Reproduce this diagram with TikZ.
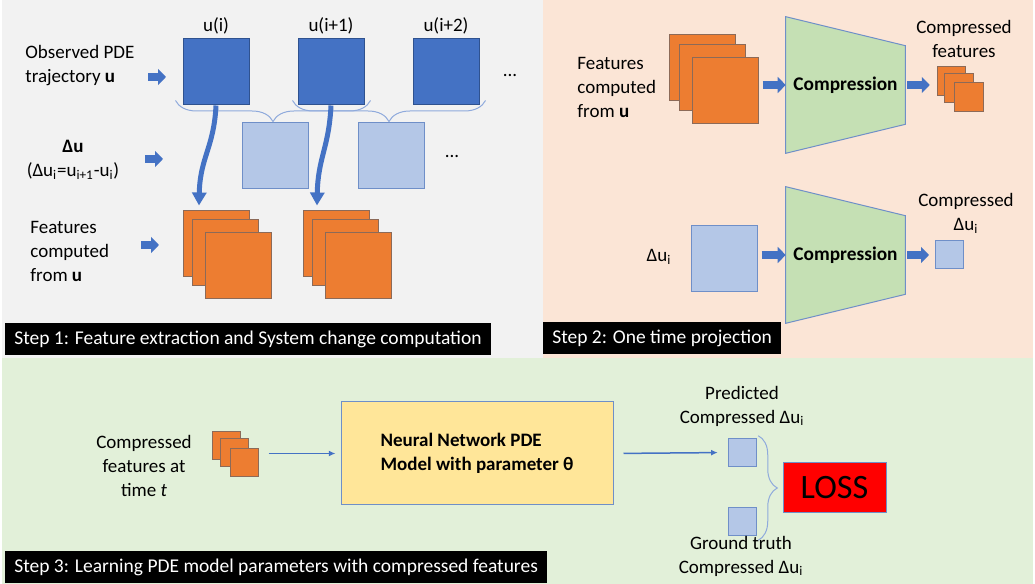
\documentclass[tikz,border=0pt]{standalone}
\usepackage{fontspec}
\setmainfont{Carlito}
\usetikzlibrary{positioning,arrows.meta,decorations.pathreplacing,backgrounds}
\definecolor{udark}{HTML}{4472C4}
\definecolor{udarkb}{HTML}{2F528F}
\definecolor{ulight}{HTML}{B4C7E7}
\definecolor{ulightb}{HTML}{6F8FC8}
\definecolor{org}{HTML}{ED7D31}
\definecolor{orgb}{HTML}{8C6A58}
\definecolor{cmpfill}{HTML}{C5E0B4}
\definecolor{nnfill}{HTML}{FFE699}
\definecolor{brline}{HTML}{8FAADC}
\definecolor{pgray}{HTML}{F2F2F2}
\definecolor{ppeach}{HTML}{FBE5D6}
\definecolor{pgreen}{HTML}{E2F0D9}

\begin{document}
\begin{tikzpicture}[x=0.6pt, y=-0.6pt, font=\fontsize{11.4}{14.4}\selectfont,
    sq/.style={inner sep=0pt, minimum size=39.6pt, line width=0.6pt},
    ublk/.style={sq, draw=udarkb, fill=udark},
    dblk/.style={sq, draw=ulightb, fill=ulight},
    fblk/.style={sq, draw=orgb, fill=org},
    smsq/.style={minimum size=#1},
    lbl/.style={align=center},
    steplbl/.style={anchor=west, fill=black, text=white, font=\fontsize{11.7}{13}\selectfont,
        inner xsep=5.4pt, minimum height=19.2pt},
    cmpbox/.style={font=\fontsize{11.6}{13}\selectfont\bfseries, minimum width=71.4pt, minimum height=81.6pt},
    trap/.style={draw=ulightb, fill=cmpfill, line width=0.6pt},
    blk/.style={line width=4.8pt, draw=udark, -{Triangle[width=9.6pt,length=4.8pt]}},
    curv/.style={line width=3pt, draw=udark, -{Triangle[width=8.4pt,length=7.8pt]}},
    flow/.style={line width=0.9pt, draw=udark, -{Latex[length=4pt,width=3.6pt]}},
    brc/.style={draw=brline, line width=0.6pt, decorate, decoration={brace, amplitude=#1}}]

    \useasboundingbox (0,0) rectangle (1035,584);
    % the three panels
    \begin{scope}[on background layer]
      \fill[white] (0,0) rectangle (1035,584);
      \fill[pgray] (2,0) rectangle (543,358);
      \fill[ppeach] (543,0) rectangle (1033,358);
      \fill[pgreen] (2,358) rectangle (1033,584);
    \end{scope}

    %% step 1
    \node[ublk] (ui)   at (216,72) {};
    \node[ublk] (uii)  at (331,72) {};
    \node[ublk] (uiii) at (446,72) {};
    \node (lui)   at (216,26) {u(i)};
    \node (luii)  at (331,26) {u(i+1)};
    \node (luiii) at (446,26) {u(i+2)};
    \node (dots1) at (510,76) {...};

    \node[dblk] (d1) at (275.5,156) {};
    \node[dblk] (d2) at (391,156) {};
    \node (dots2) at (452,157) {...};

    \foreach \n/\x in {fa/216, fb/336} {
      \node[fblk] (\n1) at (\x,244) {};
      \node[fblk] (\n2) at (\x+9.5,253) {};
      \node[fblk] (\n3) at (\x+22,266) {};
    }

    \draw[brc=12.6pt, decoration={mirror}] ([shift={(-7,-5)}]ui.south west) -- ([shift={(6,-5)}]uii.south east);
    \draw[brc=12.6pt, decoration={mirror}] ([shift={(-5,-5)}]uii.south west) -- ([shift={(6,-5)}]uiii.south east);
    \draw[curv] (ui.south) .. controls +(-2,42) and +(1,-48) .. ([shift={(-17,-5)}]fa1.north);
    \draw[curv] (uii.south) .. controls +(-2,42) and +(1,-48) .. ([shift={(-19,-5)}]fb1.north);

    \node[align=left, anchor=west] (obs) at (19.5,66) {Observed PDE\\trajectory \textbf{u}};
    \node[lbl] (du) at (73,160) {\textbf{Δu}\\(Δu\textsubscript{i}=u\textsubscript{i+1}-u\textsubscript{i})};
    \node[align=left, anchor=west] (fc) at (24.5,251) {Features\\computed\\from \textbf{u}};
    \coordinate (a1) at (148,77);
    \coordinate (a2) at (145,159);
    \coordinate (a3) at (141,245);
    \foreach \a in {a1,a2,a3} \draw[blk] (\a) -- ++(18,0);

    \node[steplbl] (s1) at (5,339.5) {Step 1: Feature extraction and System change computation};

    %% step 2
    \node[align=left, anchor=west] (fc2) at (571.5,87) {Features\\computed\\from \textbf{u}};
    \node[fblk] (fs1) at (702,67.5) {};
    \node[fblk] (fs2) at (712,77.5) {};
    \node[fblk] (fs3) at (725,91) {};
    \node[cmpbox] (cmp1) at (845.5,85) {Compression};
    \node[fblk, smsq=17.1pt] (cf1) at (951.5,81) {};
    \node[fblk, smsq=17.1pt] (cf2) at (959,88) {};
    \node[fblk, smsq=17.1pt] (cf3) at (969,97) {};
    \node[lbl] (cfl) at (964,39) {Compressed\\features};
    \draw[blk, shorten <=2.4pt] (fs3.east |- cmp1) -- (cmp1.west);
    \draw[blk, shorten <=1.2pt, shorten >=4.2pt] (cmp1.east) -- (cf1.west |- cmp1);

    \node (dul) at (659,257) {Δu\textsubscript{i}};
    \node[dblk] (ds) at (724,259) {};
    \node[cmpbox] (cmp2) at (845.5,255) {Compression};
    \node[dblk, smsq=16.8pt] (cd) at (949.5,255) {};
    \node[lbl] (cdl) at (966,213) {Compressed\\Δu\textsubscript{i}};
    \draw[blk, shorten <=2.4pt] (ds.east |- cmp2) -- (cmp2.west);
    \draw[blk, shorten <=1.2pt, shorten >=3.6pt] (cmp2.east) -- (cd.west);

    \begin{scope}[on background layer]
      \foreach \c in {cmp1,cmp2}
        \draw[trap] (\c.north west) -- ([yshift=-17.4pt]\c.north east)
          -- ([yshift=17.4pt]\c.south east) -- (\c.south west) -- cycle;
    \end{scope}

    \node[steplbl] (s2) at (543,338.5) {Step 2: One time projection};

    %% step 3
    \node[lbl] (cft) at (144,466) {Compressed\\features at\\time \textit{t}};
    \node[fblk, smsq=16.8pt] (cs1) at (226,446) {};
    \node[fblk, smsq=16.8pt] (cs2) at (234.5,453) {};
    \node[fblk, smsq=16.8pt] (cs3) at (244,462.5) {};
    \node[draw=ulightb, fill=nnfill, line width=0.6pt, align=left, minimum width=163.2pt, minimum height=61.8pt,
          font=\fontsize{11.4}{14.4}\selectfont\bfseries] (nn) at (477,453.5) {Neural Network PDE\\Model with parameter θ};
    \node[dblk, smsq=17.1pt] (pr) at (742.5,452.5) {};
    \node[dblk, smsq=17.1pt] (gt) at (742.5,521.5) {};
    \node[lbl] (prl) at (742,406) {Predicted\\Compressed Δu\textsubscript{i}};
    \node[lbl] (gtl) at (741,556) {Ground truth\\Compressed Δu\textsubscript{i}};
    \node[draw=ulightb, fill=red, line width=0.6pt, minimum width=61.8pt, minimum height=30pt,
          font=\fontsize{20.5}{22}\selectfont] (loss) at (834.5,488) {LOSS};
    \draw[brc=11.4pt] ([shift={(1,-2)}]pr.north east) -- ([shift={(1,4)}]gt.south east);
    \draw[flow, shorten <=6pt, shorten >=3pt] (cs3.east |- nn.west) -- (nn.west);
    \draw[flow, shorten <=6pt, shorten >=6pt] (nn.east) -- (pr.west);

    \node[steplbl] (s3) at (5,567.5) {Step 3: Learning PDE model parameters with compressed features};
\end{tikzpicture}
\end{document}
